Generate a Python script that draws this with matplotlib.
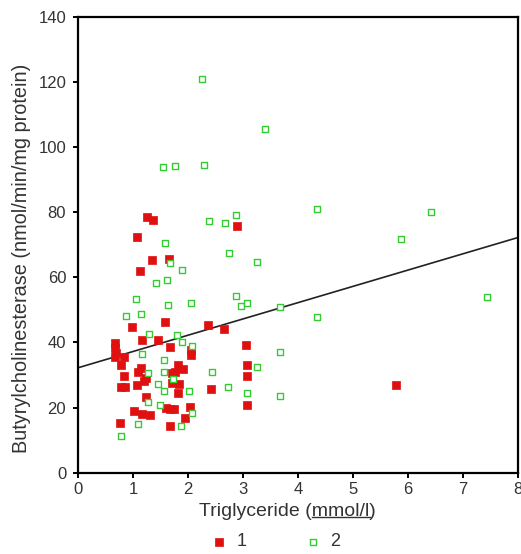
import matplotlib.pyplot as plt
from matplotlib.lines import Line2D
import numpy as np

plt.rcParams['font.family'] = ['Liberation Sans', 'DejaVu Sans']

# group 1 (red, filled squares)
tg_1 = [1.25, 1.36, 2.89, 1.08, 1.34, 1.65, 1.12, 1.59, 0.98, 2.37, 2.65,
        1.16, 1.46, 1.67, 0.68, 0.68, 0.69, 0.68, 0.83, 2.06, 2.06, 3.06,
        0.79, 1.10, 1.14, 1.81, 1.91, 1.76, 1.71, 3.08, 0.84, 1.23, 1.20,
        3.08, 1.08, 0.78, 0.85, 1.71, 1.84, 2.41, 1.82, 5.79, 1.24, 2.04,
        3.08, 1.60, 1.68, 1.74, 1.02, 1.16, 1.31, 1.95, 0.76, 1.68]
bche_1 = [78.6, 77.5, 75.6, 72.5, 65.3, 65.5, 62.0, 46.4, 44.8, 45.3, 44.0,
          40.6, 40.6, 38.5, 39.7, 38.2, 36.6, 35.4, 35.4, 37.7, 36.1, 39.2,
          33.1, 31.0, 32.0, 33.1, 31.8, 31.0, 30.5, 33.1, 29.7, 29.2, 28.1,
          29.7, 26.9, 26.4, 26.4, 27.4, 27.2, 25.6, 24.6, 26.9, 23.1, 20.3,
          20.8, 19.9, 19.7, 19.4, 18.9, 17.9, 17.6, 16.7, 15.1, 14.2]

# group 2 (green, open squares)
tg_2 = [2.25, 3.40, 1.54, 1.76, 2.30, 4.35, 6.42, 2.38, 2.67, 2.87, 5.87,
        1.59, 2.75, 1.68, 3.25, 1.89, 1.42, 1.61, 7.44, 1.05, 1.63, 2.06,
        2.87, 2.97, 3.08, 3.67, 0.88, 1.14, 4.35, 1.30, 1.80, 1.89, 2.08,
        1.16, 3.67, 1.56, 3.25, 2.43, 1.28, 1.56, 1.73, 1.45, 1.56, 2.02,
        2.72, 3.08, 3.67, 1.27, 1.50, 2.08, 1.10, 1.87, 0.79]
bche_2 = [120.8, 105.4, 94.0, 94.1, 94.6, 81.1, 80.1, 77.3, 76.8, 79.2, 71.6,
          70.6, 67.3, 64.3, 64.7, 62.3, 58.1, 59.1, 53.9, 53.3, 51.5, 52.0,
          54.3, 51.1, 52.0, 51.0, 48.2, 48.7, 47.7, 42.7, 42.3, 40.2, 38.9,
          36.4, 36.9, 34.6, 32.3, 30.9, 30.7, 30.9, 28.8, 27.2, 25.2, 25.2,
          26.4, 24.6, 23.6, 21.7, 20.7, 18.4, 15.0, 14.2, 11.4]

# regression line
fit_intercept = 32.2
fit_slope = 5.0

txt = '#333333'

fig = plt.figure(figsize=(5.21, 5.54), dpi=100)
ax = fig.add_axes([0.1497, 0.1468, 0.8445, 0.8231])

ax.scatter(tg_1, bche_1, marker='s', s=26, color='#e01010', edgecolors='#e01010',
           linewidths=0.5, label='1', zorder=3)
ax.scatter(tg_2, bche_2, marker='s', s=24, facecolors='white', edgecolors='#33cc33',
           linewidths=1.0, label='2', zorder=3)

xx = np.array([0, 8])
ax.plot(xx, fit_intercept + fit_slope * xx, color='#222222', lw=1.2, zorder=2)

ax.set_xlim(0, 8)
ax.set_ylim(0, 140)
ax.set_xticks(range(0, 9))
ax.set_yticks(range(0, 141, 20))
for s in ax.spines.values():
    s.set_linewidth(1.6)
ax.tick_params(direction='out', length=3.5, width=1.4, labelsize=12,
               labelcolor=txt, pad=3)
ax.tick_params(axis='y', pad=5)

xl_pre, xl_unit, xl_post = 'Triglyceride (', 'mmol/l', ')'
ax.set_xlabel(xl_pre + xl_unit + xl_post, fontsize=14, color=txt)
ax.xaxis.set_label_coords(0.477, -0.066)
ax.set_ylabel('Butyrylcholinesterase (nmol/min/mg protein)', fontsize=14.3,
              color=txt)
ax.yaxis.set_label_coords(-0.107, 0.469)

leg = fig.legend(loc='center', bbox_to_anchor=(0.528, 0.022), ncol=2,
                 frameon=False, fontsize=13, markerscale=1.0, handletextpad=0.45,
                 columnspacing=3.2, handlelength=1.0, borderpad=0)
for t in leg.get_texts():
    t.set_color(txt)

# underline the unit in the x label (mathtext has no \underline)
fig.canvas.draw()
r = fig.canvas.get_renderer()
lab = ax.xaxis.label
bb = lab.get_window_extent(r)
prop = lab.get_fontproperties()
w_pre = r.get_text_width_height_descent(xl_pre, prop, ismath=False)[0]
w_unit = r.get_text_width_height_descent(xl_unit, prop, ismath=False)[0]
_, _, desc = r.get_text_width_height_descent(xl_pre + xl_unit + xl_post, prop, ismath=False)
base = bb.y0 + desc - 1.5
x0, x1 = bb.x0 + w_pre, bb.x0 + w_pre + w_unit
W, H = fig.bbox.width, fig.bbox.height
fig.add_artist(Line2D([x0 / W, x1 / W], [base / H, base / H], color=txt,
                      lw=1.0, transform=fig.transFigure))

fig.savefig('out.png', dpi=100)
